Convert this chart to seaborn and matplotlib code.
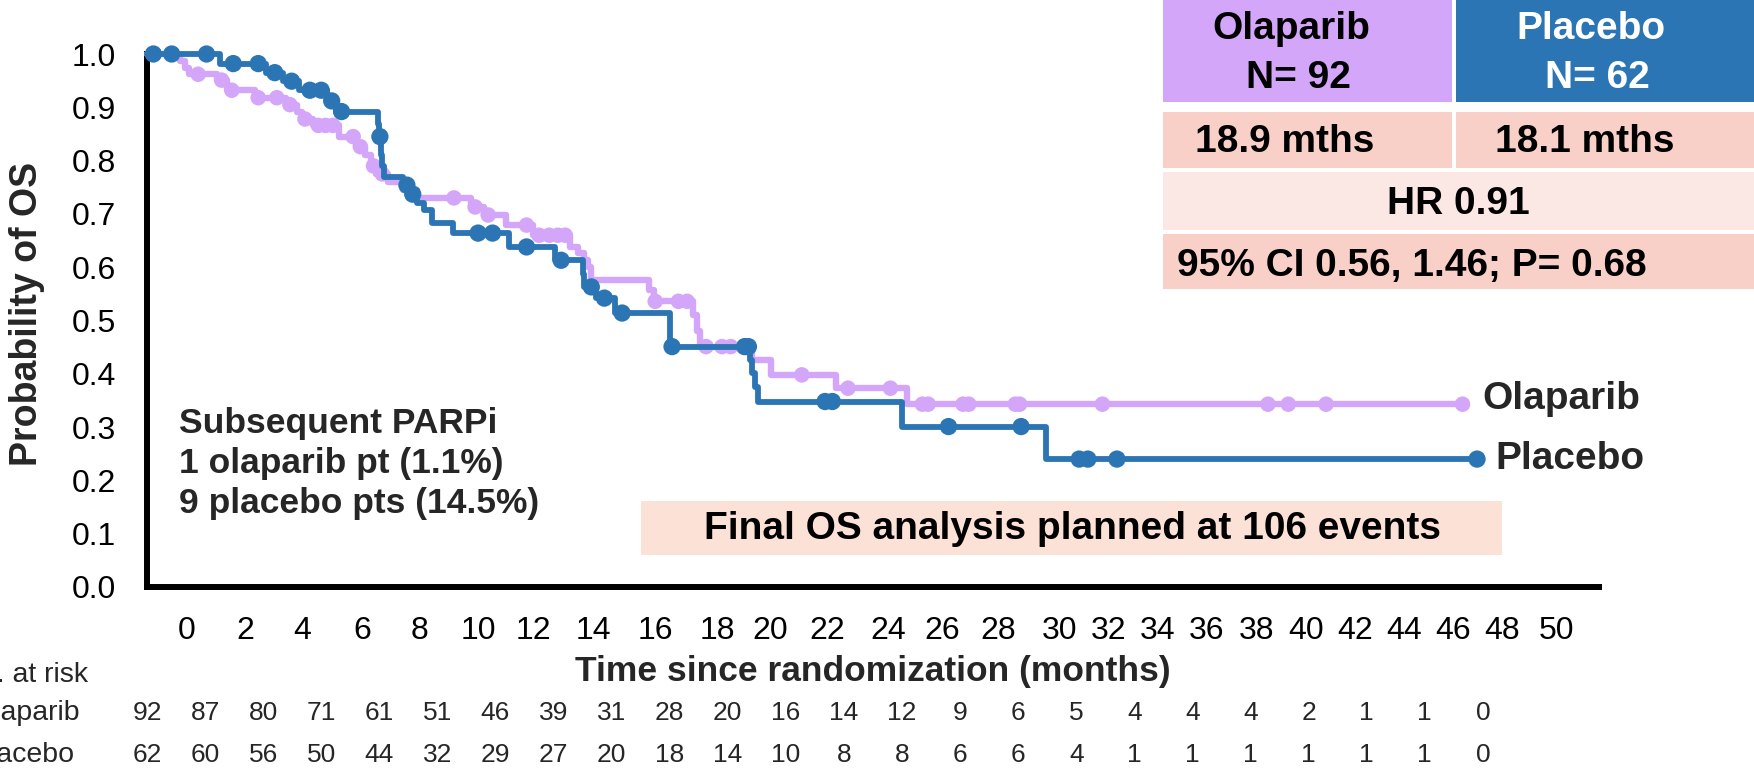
import numpy as np
import pandas as pd
import matplotlib
matplotlib.use("Agg")
import matplotlib.pyplot as plt
import matplotlib.transforms as mtransforms
from matplotlib.patches import Rectangle
from matplotlib.ticker import NullFormatter
import seaborn as sns

# ---------------- Kaplan-Meier data (months / survival after each death) ----------------
ola_event_t = [1.14, 1.30, 1.45, 2.40, 2.75, 3.72, 4.80, 5.15, 5.35, 5.70, 6.60, 7.20,
               7.50, 7.70, 7.90, 8.30, 8.80, 9.30, 11.15, 11.60, 12.35, 13.30, 14.58,
               14.85, 15.05, 15.20, 15.30, 17.29, 17.45, 18.80, 18.95, 19.05, 20.83,
               21.50, 23.74, 26.17]
ola_event_s = [0.987, 0.974, 0.962, 0.951, 0.932, 0.918, 0.905, 0.892, 0.878, 0.866,
               0.845, 0.826, 0.810, 0.790, 0.775, 0.760, 0.745, 0.730, 0.713, 0.698,
               0.679, 0.660, 0.638, 0.626, 0.613, 0.600, 0.576, 0.557, 0.536, 0.510,
               0.480, 0.451, 0.426, 0.398, 0.373, 0.343]
ola_censor_t = [1.76, 2.57, 2.92, 3.83, 4.47, 4.92, 5.44, 5.90, 6.15, 6.40, 7.10, 7.35,
                7.80, 8.10, 10.57, 11.30, 11.75, 13.07, 13.50, 13.85, 14.15, 14.40,
                17.50, 18.30, 18.60, 19.25, 19.80, 20.10, 22.55, 24.14, 25.60, 26.70,
                26.90, 28.10, 28.30, 29.90, 30.05, 32.90, 38.60, 39.30, 40.60, 45.30]
ola_end_t = 45.4

pbo_event_t = [2.50, 4.10, 4.70, 5.25, 6.20, 6.50, 7.95, 8.00, 8.05, 8.10, 8.15, 8.80,
               9.05, 9.30, 9.55, 9.80, 10.55, 12.47, 14.05, 15.00, 15.05, 15.45, 16.10,
               18.00, 20.75, 20.85, 20.95, 21.05, 26.00, 30.96]
pbo_event_s = [0.982, 0.965, 0.949, 0.932, 0.912, 0.892, 0.868, 0.845, 0.810, 0.789,
               0.770, 0.754, 0.737, 0.721, 0.707, 0.683, 0.664, 0.638, 0.613, 0.588,
               0.563, 0.542, 0.514, 0.451, 0.426, 0.402, 0.376, 0.348, 0.301, 0.240]
pbo_censor_t = [0.22, 0.85, 2.05, 2.97, 3.83, 4.40, 4.98, 5.61, 6.00, 6.36, 6.70, 8.02,
                8.95, 9.15, 11.40, 11.90, 13.07, 14.26, 15.30, 15.75, 16.36, 18.08,
                20.58, 20.71, 23.35, 23.60, 27.60, 30.10, 32.10, 32.40, 33.40, 45.80]
pbo_end_t = 45.8

# ---------------- numbers at risk ----------------
risk_times = [0, 2, 4, 6, 8, 10, 12, 14, 16, 18, 20, 22, 24, 26, 28, 30, 32, 34, 36,
              38, 40, 42, 44, 46]
ola_at_risk = [92, 87, 80, 71, 61, 51, 46, 39, 31, 28, 20, 16, 14, 12, 9, 6, 5, 4, 4,
               4, 2, 1, 1, 0]
pbo_at_risk = [62, 60, 56, 50, 44, 32, 29, 27, 20, 18, 14, 10, 8, 8, 6, 6, 4, 1, 1, 1,
               1, 1, 1, 0]

# ---------------- axis labels ----------------
xtick_values = [0, 2, 4, 6, 8, 10, 12, 14, 16, 18, 20, 22, 24, 26, 28, 30, 32, 34, 36,
                38, 40, 42, 44, 46, 48, 50]
# where each printed month label sits along the axis (months)
xtick_label_pos = [1.38, 3.37, 5.34, 7.40, 9.40, 11.40, 13.29, 15.36, 17.50, 19.63,
                   21.45, 23.42, 25.52, 27.38, 29.30, 31.44, 33.10, 34.80, 36.50, 38.20,
                   39.90, 41.60, 43.30, 44.97, 46.66, 48.55]
ytick_values = [0.0, 0.1, 0.2, 0.3, 0.4, 0.5, 0.6, 0.7, 0.8, 0.9, 1.0]

# ---------------- summary text ----------------
arm_names = ["Olaparib", "Placebo"]
arm_n = [92, 62]
median_os = ["18.9 mths", "18.1 mths"]
hr_text = "HR 0.91"
ci_text = "95% CI 0.56, 1.46; P= 0.68"
parpi_lines = ["Subsequent PARPi", "1 olaparib pt (1.1%)", "9 placebo pts (14.5%)"]
final_note = "Final OS analysis planned at 106 events"

LILAC = "#D4A6F9"
BLUE = "#2C75B4"
PINK = "#F8D0C7"
PINK_LIGHT = "#FBE7E4"
PEACH = "#FCE1D6"

sns.set_style("white")
plt.rcParams["font.family"] = ["Liberation Sans", "DejaVu Sans"]

W, H = 1754, 772
fig = plt.figure(figsize=(W / 100, H / 100), dpi=100)
fig.patch.set_facecolor("white")
ax = fig.add_axes([147 / W, (H - 587) / H, 1452 / W, 533 / H])


def km_frame(arm, ev_t, ev_s, end_t):
    t = [0.0] + list(ev_t) + [end_t]
    s = [1.0] + list(ev_s) + [ev_s[-1]]
    return pd.DataFrame({"time": t, "surv": s, "arm": arm})


def censor_frame(arm, c_t, ev_t, ev_s):
    steps = np.concatenate([[1.0], ev_s])
    idx = np.searchsorted(np.asarray(ev_t), np.asarray(c_t), side="right")
    return pd.DataFrame({"time": c_t, "surv": steps[idx], "arm": arm})


ola_curve = km_frame("Olaparib", ola_event_t, ola_event_s, ola_end_t)
pbo_curve = km_frame("Placebo", pbo_event_t, pbo_event_s, pbo_end_t)
ola_cens = censor_frame("Olaparib", ola_censor_t, ola_event_t, ola_event_s)
pbo_cens = censor_frame("Placebo", pbo_censor_t, pbo_event_t, pbo_event_s)

sns.lineplot(data=ola_curve, x="time", y="surv", color=LILAC, estimator=None,
             sort=False, drawstyle="steps-post", linewidth=4.6, clip_on=False,
             zorder=3, ax=ax)
sns.scatterplot(data=ola_cens, x="time", y="surv", color=LILAC, s=125,
                edgecolor="none", clip_on=False, zorder=4, ax=ax)
sns.lineplot(data=pbo_curve, x="time", y="surv", color=BLUE, estimator=None,
             sort=False, drawstyle="steps-post", linewidth=4.2, clip_on=False,
             zorder=5, ax=ax)
sns.scatterplot(data=pbo_cens, x="time", y="surv", color=BLUE, s=155,
                edgecolor="none", clip_on=False, zorder=6, ax=ax)

ax.set_xlim(0, 50)
ax.set_ylim(0, 1.0)

for side in ["top", "right"]:
    ax.spines[side].set_visible(False)
for side in ["left", "bottom"]:
    ax.spines[side].set_linewidth(4.3)
    ax.spines[side].set_color("black")
    ax.spines[side].set_capstyle("projecting")

# tick notches every two months, printed labels along the row beneath
ax.set_xticks(xtick_values[1:-1])
ax.xaxis.set_major_formatter(NullFormatter())
ax.set_xticks(xtick_label_pos, labels=[str(v) for v in xtick_values], minor=True)
ax.tick_params(axis="x", which="major", direction="out", length=2.2, width=2,
               color="white")
ax.tick_params(axis="x", which="minor", length=0, pad=21, labelsize=23,
               labelcolor="black")
ax.set_yticks(ytick_values, labels=[f"{v:.1f}" for v in ytick_values])
ax.tick_params(axis="y", direction="out", length=2.2, width=2, color="white",
               pad=20, labelsize=23, labelcolor="black")

ax.set_xlabel("Time since randomization (months)", fontsize=25.5, fontweight="bold")
ax.xaxis.set_label_coords(0.5, (587 - 672) / 533)
ax.xaxis.label.set_va("center")
ax.set_ylabel("Probability of OS", fontsize=27, fontweight="bold")
ax.yaxis.set_label_coords((27 - 147) / 1452, (587 - 314) / 533)
ax.yaxis.label.set_va("center")

# arm names at the end of each curve
ax.annotate(arm_names[0], xy=(ola_end_t, ola_event_s[-1]), xytext=(12.5, 4),
            textcoords="offset points", ha="left", va="center",
            fontsize=28, fontweight="bold", annotation_clip=False)
ax.annotate(arm_names[1], xy=(pbo_end_t, pbo_event_s[-1]), xytext=(13.5, 0),
            textcoords="offset points", ha="left", va="center",
            fontsize=28, fontweight="bold", annotation_clip=False)

# subsequent PARPi note
for line, ypx in zip(parpi_lines, [423, 463, 503]):
    ax.text((179 - 147) / 1452, (587 - ypx) / 533, line, transform=ax.transAxes,
            ha="left", va="center", fontsize=25.5, fontweight="bold")


def fig_box(x0, y0, x1, y1, color):
    fig.patches.append(Rectangle((x0 / W, 1 - y1 / H), (x1 - x0) / W, (y1 - y0) / H,
                                 transform=fig.transFigure, facecolor=color,
                                 edgecolor="none", zorder=0))


def fig_label(x, y, s, color="black", size=28):
    fig.text(x / W, 1 - y / H, s, ha="center", va="center", fontsize=size,
             fontweight="bold", color=color)


# final analysis banner
fig_box(641, 501, 1502, 555, PEACH)
fig_label(1072, 529, final_note)

# summary table
fig_box(1163, 0, 1452, 102, LILAC)
fig_box(1456, 0, 1754, 102, BLUE)
fig_box(1163, 112, 1452, 168, PINK)
fig_box(1456, 112, 1754, 168, PINK)
fig_box(1163, 172, 1754, 230, PINK_LIGHT)
fig_box(1163, 234, 1754, 289, PINK)
fig_label(1291, 29, arm_names[0])
fig_label(1298, 78, f"N= {arm_n[0]}")
fig_label(1591, 29, arm_names[1], color="white")
fig_label(1597, 78, f"N= {arm_n[1]}", color="white")
fig_label(1285, 142, median_os[0])
fig_label(1585, 142, median_os[1])
fig_label(1458, 204, hr_text)
fig_label(1412, 266, ci_text)

# numbers at risk
risk_tf = mtransforms.blended_transform_factory(ax.transData, fig.transFigure)
fig.text(88 / W, 1 - 675 / H, "No. at risk", ha="right", va="center", fontsize=20.5)
fig.text(80 / W, 1 - 713 / H, arm_names[0], ha="right", va="center", fontsize=20.5)
fig.text(75 / W, 1 - 755 / H, arm_names[1], ha="right", va="center", fontsize=20.5)
for t, a, b in zip(risk_times, ola_at_risk, pbo_at_risk):
    ax.text(t, 1 - 713 / H, str(a), transform=risk_tf, ha="center", va="center",
            fontsize=19, clip_on=False)
    ax.text(t, 1 - 755 / H, str(b), transform=risk_tf, ha="center", va="center",
            fontsize=19, clip_on=False)

fig.savefig("out.png", dpi=100, facecolor="white")
